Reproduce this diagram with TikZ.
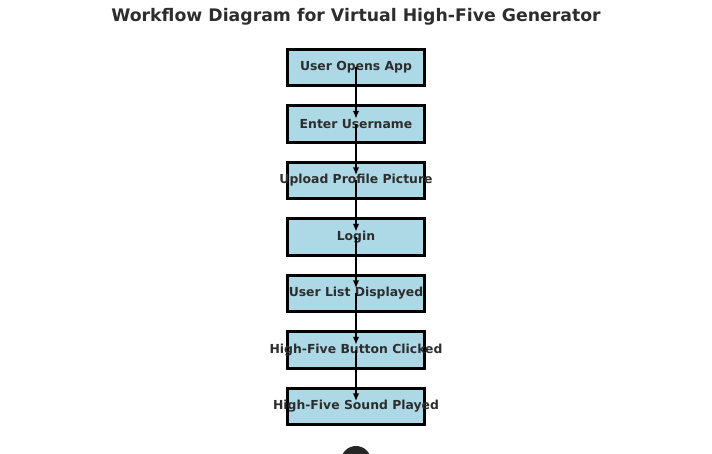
\documentclass[tikz,border=0pt]{standalone}
\usepackage{fontspec}
\setmainfont{DejaVu Sans}
\usetikzlibrary{arrows.meta}
\definecolor{boxfill}{RGB}{173,216,230}
\definecolor{txt}{RGB}{45,45,45}
\definecolor{dot}{RGB}{38,38,38}
\tikzset{
  stepbox/.style={draw=black, line width=2.9pt, fill=boxfill, minimum width=137pt, minimum height=36.5pt, inner sep=0pt, text=txt, font=\fontsize{12.4pt}{14pt}\selectfont\bfseries},
  flow/.style={draw=black, line width=1.9pt, -{Latex[length=8pt,width=6.5pt]}},
  titlestyle/.style={text=txt, font=\fontsize{17.3pt}{20pt}\selectfont\bfseries, inner sep=0pt}
}
\newcommand{\boxtext}[1]{\makebox[0pt]{#1}}
\begin{document}
\begin{tikzpicture}[x=1pt,y=-1pt]
\useasboundingbox (0,0) rectangle (712,453);
\node[titlestyle] (title) at (356,16.5) {Workflow Diagram for Virtual High-Five Generator};
\node[stepbox] (b1) at (356,67.3) {\boxtext{User Opens App}};
\node[stepbox] (b2) at (356,123.8) {\boxtext{Enter Username}};
\node[stepbox] (b3) at (356,180.3) {\boxtext{Upload Profile Picture}};
\node[stepbox] (b4) at (356,236.8) {\boxtext{Login}};
\node[stepbox] (b5) at (356,293.3) {\boxtext{User List Displayed}};
\node[stepbox] (b6) at (356,349.8) {\boxtext{High-Five Button Clicked}};
\node[stepbox] (b7) at (356,406.3) {\boxtext{High-Five Sound Played}};
\foreach \a/\b in {b1/b2,b2/b3,b3/b4,b4/b5,b5/b6,b6/b7}
  \draw[flow] (\a.center) -- ([yshift=5pt]\b.center);
\node[circle, fill=dot, minimum size=30pt, inner sep=0pt] (end) at (356,461) {};
\end{tikzpicture}
\end{document}
